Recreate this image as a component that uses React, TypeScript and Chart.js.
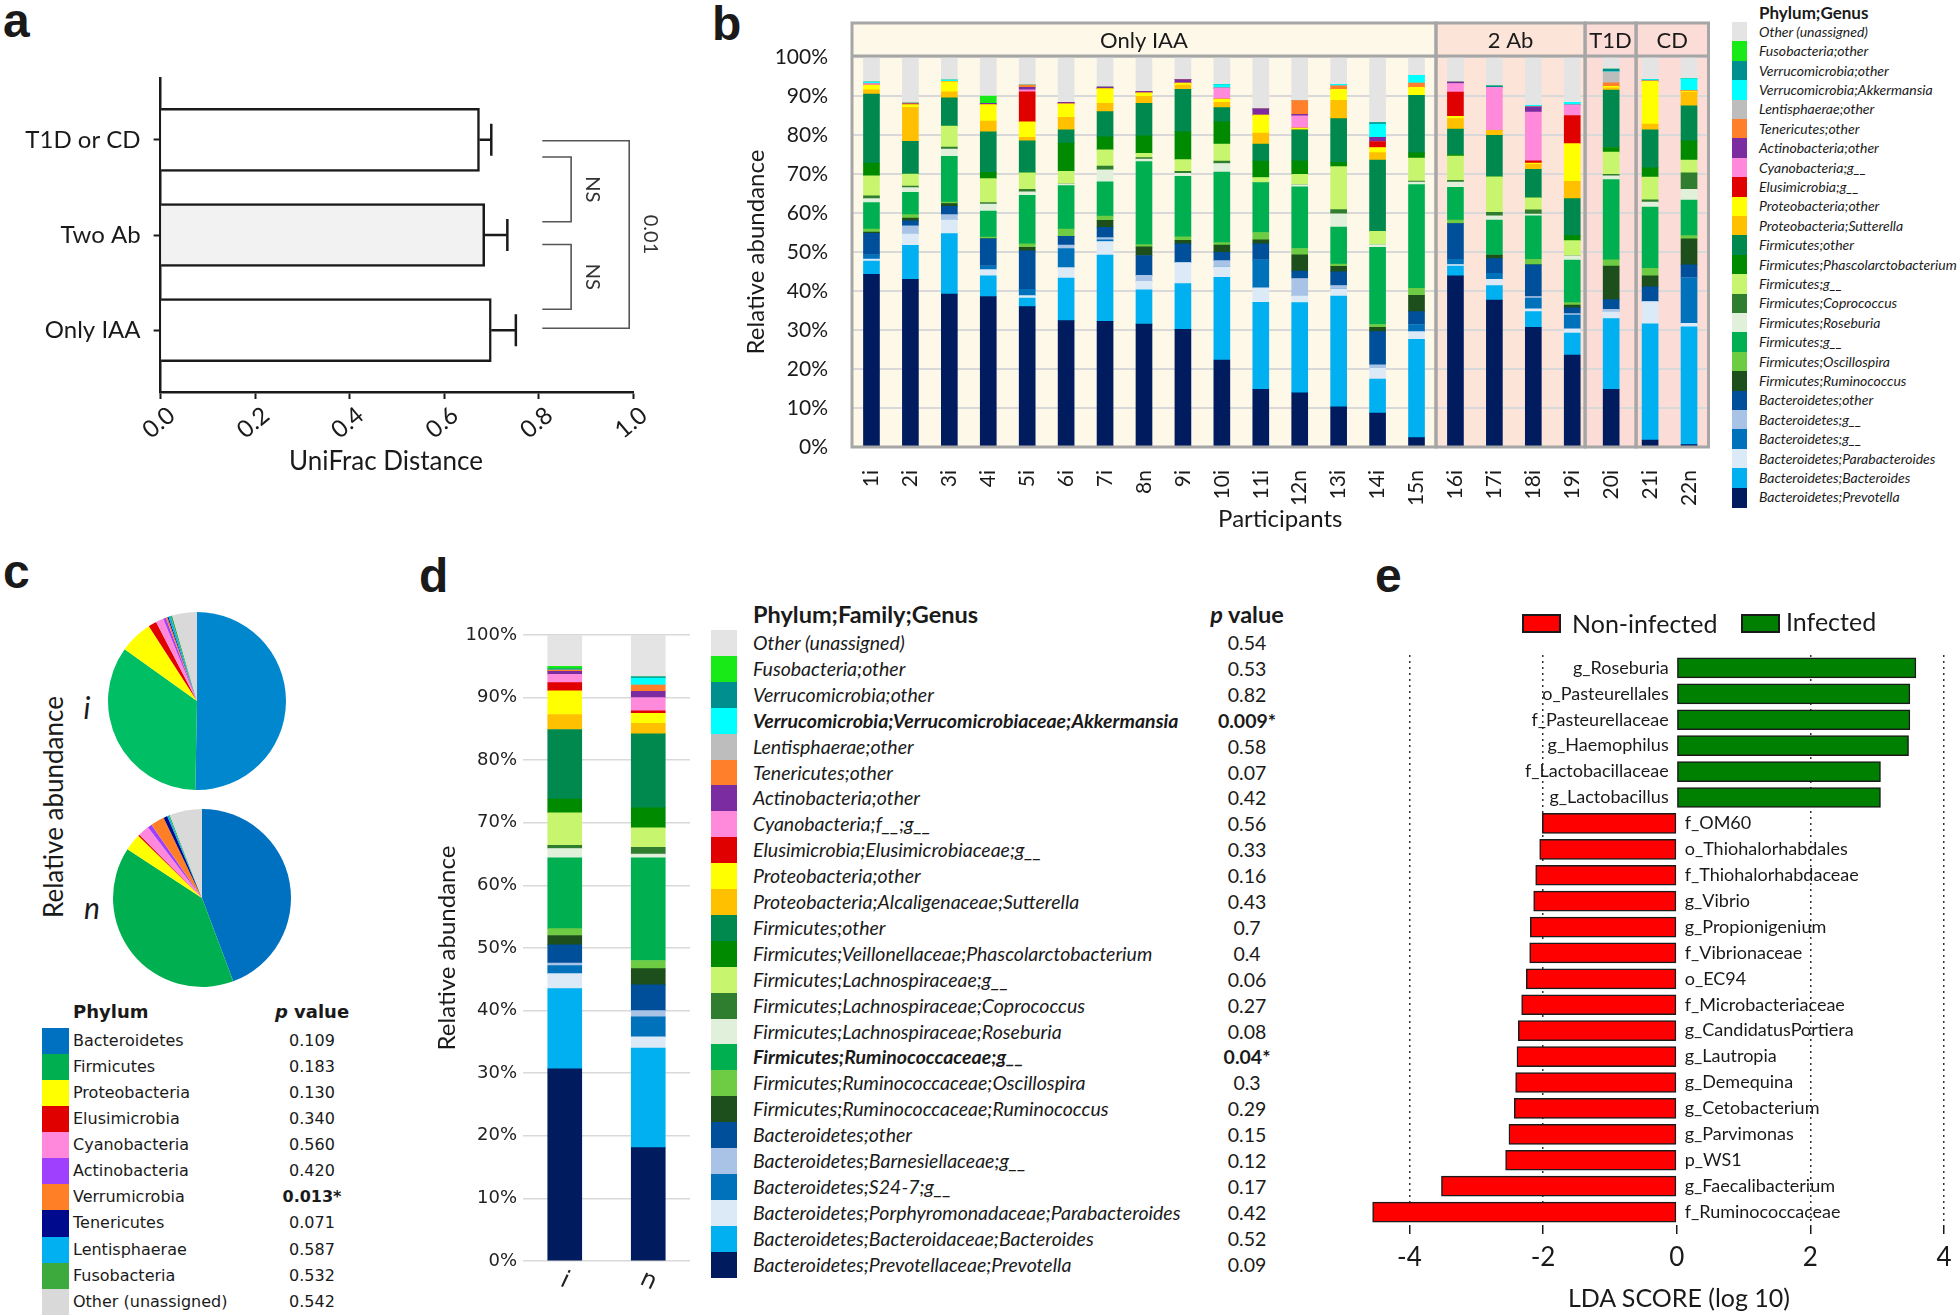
import React, { useEffect, useRef } from 'react';
import { Chart, registerables } from 'chart.js';

Chart.register(...registerables);

const FONT = 'Lato, "Open Sans", "DejaVu Sans", sans-serif';
const FONT_V = '"DejaVu Sans", Verdana, sans-serif';
const FONT_H = '"Liberation Sans", Arial, sans-serif';
const INK = '#1A1A1A';

// ================= Panel a =================
const A_GROUPS = ['Only IAA', 'Two Ab', 'T1D or CD'];
const A_MEANS = [0.7, 0.686, 0.675];
const A_SEM = [0.052, 0.048, 0.025];
const A_X_TICKS = [0, 0.2, 0.4, 0.6, 0.8, 1.0];
const A_BRACKET_LABELS = ['NS', 'NS', '0.01'];
const A_BRACKET_Y = [[1.82, 1.14], [0.9, 0.22], [1.99, 0.02]];
const A_BRACKET_X = [[0.808, 0.869], [0.808, 0.869], [0.808, 0.992]];

// ================= Panel b =================
const B_PARTICIPANTS = ['1i', '2i', '3i', '4i', '5i', '6i', '7i', '8n', '9i', '10i', '11i', '12n', '13i', '14i', '15n', '16i', '17i', '18i', '19i', '20i', '21i', '22n'];
const B_GROUP_NAMES = ['Only IAA', '2 Ab', 'T1D', 'CD'];
const B_GROUP_EDGES = [-0.5, 14.5, 18.33, 19.64, 21.5];
const B_TAXA = [
  'Other (unassigned)', 'Fusobacteria;other', 'Verrucomicrobia;other', 'Verrucomicrobia;Akkermansia',
  'Lentisphaerae;other', 'Tenericutes;other', 'Actinobacteria;other', 'Cyanobacteria;g__', 'Elusimicrobia;g__',
  'Proteobacteria;other', 'Proteobacteria;Sutterella', 'Firmicutes;other', 'Firmicutes;Phascolarctobacterium',
  'Firmicutes;g__', 'Firmicutes;Coprococcus', 'Firmicutes;Roseburia', 'Firmicutes;g__', 'Firmicutes;Oscillospira',
  'Firmicutes;Ruminococcus', 'Bacteroidetes;other', 'Bacteroidetes;g__', 'Bacteroidetes;g__',
  'Bacteroidetes;Parabacteroides', 'Bacteroidetes;Bacteroides', 'Bacteroidetes;Prevotella',
];
const B_OTHER = [6.4, 11.8, 5.9, 10.0, 7.2, 11.6, 7.7, 8.8, 5.8, 7.1, 13.3, 11.2, 7.0, 16.8, 4.7, 6.4, 7.4, 12.4, 11.6, 3.1, 5.8, 5.6];
const B_FUSO = [0, 0, 0, 1.9, 0, 0, 0, 0, 0, 0, 0, 0, 0, 0, 0, 0, 0, 0, 0, 0, 0, 0];
const B_VERR_OTHER = [0, 0, 0, 0, 0, 0, 0, 0, 0, 0, 0, 0, 0, 0.4, 0, 0, 0.4, 0, 0, 0.7, 0, 0];
const B_AKKERMANSIA = [0.4, 0, 0.4, 0, 0, 0, 0, 0, 0, 0.9, 0, 0, 0.4, 3.4, 2.0, 0, 0, 0.4, 0.7, 0, 0.4, 3.1];
const B_LENTIS = [0, 0, 0, 0, 0, 0, 0, 0, 0, 0, 0, 0, 0, 0, 0, 0, 0, 0, 0, 2.8, 0, 0];
const B_TENERIC = [0, 0.2, 0, 0, 0.6, 0, 0, 0, 0, 0, 0, 3.5, 0.9, 0, 1.1, 0, 0, 0, 0, 0.9, 0, 0];
const B_ACTINO = [0, 0.2, 0, 0.3, 0.6, 0.4, 0.4, 0.4, 0.9, 0, 1.6, 0.4, 0, 1.1, 0, 0.4, 0, 1.3, 0, 0, 0, 0];
const B_CYANO = [0.4, 0, 0, 0, 0.5, 0, 0, 0, 0, 2.8, 0, 3.1, 0, 0, 0, 2.2, 11.0, 12.5, 2.7, 0, 0, 0];
const B_ELUSIM = [0, 0, 0, 0, 7.7, 0, 0, 0, 0, 0, 0, 0, 0, 1.5, 0, 6.2, 0, 0.6, 7.2, 0, 0, 0];
const B_PROTEO_OTHER = [1.2, 0.7, 2.6, 4.2, 4.0, 3.5, 3.8, 0.9, 0.5, 0.8, 4.6, 0.5, 2.8, 1.3, 2.0, 0.6, 0, 0.3, 9.7, 0.4, 11.0, 0.3];
const B_SUTTERELLA = [1.1, 8.7, 1.6, 2.8, 0.9, 3.2, 2.1, 1.8, 1.1, 1.4, 2.8, 0, 4.7, 1.9, 0, 2.7, 1.3, 1.3, 4.4, 0.6, 1.5, 3.5];
const B_FIRM_OTHER = [17.7, 8.4, 7.2, 10.4, 8.2, 3.4, 6.5, 8.3, 10.9, 3.6, 4.4, 7.9, 11.2, 18.3, 14.8, 6.5, 10.6, 7.3, 9.5, 14.7, 9.7, 9.0];
const B_PHASCOLARCTO = [3.3, 0, 0, 1.6, 0, 7.2, 3.3, 4.5, 7.1, 5.7, 4.2, 3.5, 1.1, 0, 1.3, 0.4, 0, 0, 1.3, 1.2, 2.4, 4.9];
const B_FIRM_G1 = [5.1, 3.1, 5.4, 6.1, 4.2, 3.2, 4.2, 1.1, 3.0, 4.4, 1.3, 2.7, 11.0, 3.4, 5.9, 6.2, 9.1, 3.1, 3.9, 5.7, 5.8, 3.3];
const B_COPROCOCCUS = [0.7, 0.4, 0.5, 0.4, 0.7, 0, 0.9, 0.4, 0.5, 0.6, 0, 0, 1.1, 0, 0.3, 0.5, 0.9, 1.1, 0, 0.4, 0.6, 4.2];
const B_ROSEBURIA = [1.0, 1.2, 1.9, 1.8, 0.9, 0.5, 3.1, 0.6, 0.8, 2.2, 0, 0.5, 3.4, 0.7, 0.6, 1.3, 1.1, 0.4, 1.1, 0.9, 1.3, 2.8];
const B_FIRM_G2 = [6.8, 5.7, 11.7, 6.7, 12.4, 11.1, 8.8, 21.3, 15.5, 18.1, 12.8, 15.8, 9.5, 19.8, 26.6, 8.4, 9.0, 11.2, 10.9, 20.6, 15.7, 9.1];
const B_OSCILLOSPIRA = [0.8, 0.9, 0.4, 0.4, 0.9, 1.9, 1.1, 0.6, 0.9, 0.6, 1.9, 1.6, 0.6, 0.7, 1.8, 0.9, 0, 1.4, 0.6, 1.6, 1.9, 0.8];
const B_RUMINOCOCCUS = [0.3, 0.7, 0.7, 0, 0.9, 0, 1.8, 2.2, 0.9, 1.9, 1.0, 4.2, 1.4, 1.1, 4.2, 0, 0.9, 0, 0.7, 8.6, 2.8, 6.7];
const B_BACT_OTHER = [5.6, 1.3, 2.1, 7.0, 9.9, 2.2, 2.6, 5.1, 4.8, 2.1, 4.2, 1.9, 3.5, 8.5, 3.3, 9.2, 3.8, 8.1, 1.5, 2.5, 3.8, 3.3];
const B_BACT_G1 = [0, 2.0, 1.3, 0, 0, 0.9, 0.6, 1.5, 0, 1.6, 0, 4.4, 0.9, 0.9, 0, 0, 0, 0.4, 0.4, 0.6, 0, 0];
const B_BACT_G2 = [1.0, 0, 0, 0.9, 1.6, 4.9, 0.4, 0, 0, 0, 7.1, 0, 0, 0, 1.8, 1.3, 1.5, 2.8, 3.5, 0, 0, 11.7];
const B_PARABACT = [0.5, 3.0, 3.6, 1.6, 0.6, 2.7, 3.5, 2.2, 5.4, 2.7, 3.7, 1.8, 1.8, 2.8, 2.0, 0.4, 1.6, 0.7, 1.1, 1.8, 5.7, 0.9];
const B_BACTEROIDES = [3.4, 8.7, 15.5, 5.3, 2.2, 10.9, 17.0, 8.8, 11.7, 21.2, 22.3, 23.1, 28.4, 8.7, 25.2, 2.5, 3.7, 4.0, 5.6, 18.1, 29.8, 30.2];
const B_PREVOTELLA = [44.3, 43.0, 39.2, 38.6, 36.0, 32.4, 32.2, 31.5, 30.2, 22.3, 14.8, 13.9, 10.3, 8.7, 2.4, 43.9, 37.7, 30.7, 23.6, 14.8, 1.8, 0.6];
const B_SERIES = [
  B_OTHER, B_FUSO, B_VERR_OTHER, B_AKKERMANSIA, B_LENTIS, B_TENERIC, B_ACTINO, B_CYANO, B_ELUSIM,
  B_PROTEO_OTHER, B_SUTTERELLA, B_FIRM_OTHER, B_PHASCOLARCTO, B_FIRM_G1, B_COPROCOCCUS, B_ROSEBURIA,
  B_FIRM_G2, B_OSCILLOSPIRA, B_RUMINOCOCCUS, B_BACT_OTHER, B_BACT_G1, B_BACT_G2, B_PARABACT,
  B_BACTEROIDES, B_PREVOTELLA,
];

// shared genus colours (legend order, top -> bottom)
const TAXA_COLORS = [
  '#E4E4E4', '#17EA17', '#008F8F', '#00FFFF', '#BDBDBD', '#FF7F2A', '#7A2CA0', '#FF8ADB', '#E00000',
  '#FFFF00', '#FFC000', '#00894F', '#008A00', '#C7F56E', '#2F7D2F', '#E1F0DA', '#00B050', '#6DCC44',
  '#1D4F1D', '#004F9A', '#A8C3E6', '#0071BB', '#DCEAF7', '#00B0F0', '#001B5E',
];
const B_GROUP_FILLS = ['#FEF8E9', '#FCE4D8', '#FCDCD6', '#FCDCD6'];

// ================= Panel c =================
const C_PHYLA = ['Bacteroidetes', 'Firmicutes', 'Proteobacteria', 'Elusimicrobia', 'Cyanobacteria', 'Actinobacteria', 'Verrumicrobia', 'Tenericutes', 'Lentisphaerae', 'Fusobacteria', 'Other (unassigned)'];
const C_PVALUES = ['0.109', '0.183', '0.130', '0.340', '0.560', '0.420', '0.013*', '0.071', '0.587', '0.532', '0.542'];
const C_BOLD = [6];
const C_I = [50.3, 34.6, 6.0, 1.5, 1.4, 0.5, 0.3, 0.2, 0.4, 0.3, 4.5];
const C_N = [44.3, 39.9, 3.1, 0.3, 2.0, 0.8, 2.5, 0.7, 0.3, 0.2, 5.9];
const C_COLORS = ['#0070C0', '#00B050', '#FFFF00', '#E00000', '#FF88DD', '#A040FF', '#FF7F27', '#000A8C', '#00B0F0', '#3CAA3C', '#D9D9D9'];
const C_COLORS_I = ['#0087CE', '#00BE64', '#FFFF00', '#E00000', '#FF88DD', '#A040FF', '#FF7F27', '#000A8C', '#00B0F0', '#3CAA3C', '#D9D9D9'];

// ================= Panel d =================
const D_GROUPS = ['i', 'n'];
const D_TAXA = [
  'Other (unassigned)', 'Fusobacteria;other', 'Verrucomicrobia;other', 'Verrucomicrobia;Verrucomicrobiaceae;Akkermansia',
  'Lentisphaerae;other', 'Tenericutes;other', 'Actinobacteria;other', 'Cyanobacteria;f__;g__',
  'Elusimicrobia;Elusimicrobiaceae;g__', 'Proteobacteria;other', 'Proteobacteria;Alcaligenaceae;Sutterella',
  'Firmicutes;other', 'Firmicutes;Veillonellaceae;Phascolarctobacterium', 'Firmicutes;Lachnospiraceae;g__',
  'Firmicutes;Lachnospiraceae;Coprococcus', 'Firmicutes;Lachnospiraceae;Roseburia', 'Firmicutes;Ruminococcaceae;g__',
  'Firmicutes;Ruminococcaceae;Oscillospira', 'Firmicutes;Ruminococcaceae;Ruminococcus', 'Bacteroidetes;other',
  'Bacteroidetes;Barnesiellaceae;g__', 'Bacteroidetes;S24-7;g__', 'Bacteroidetes;Porphyromonadaceae;Parabacteroides',
  'Bacteroidetes;Bacteroidaceae;Bacteroides', 'Bacteroidetes;Prevotellaceae;Prevotella',
];
const D_PVALUES = ['0.54', '0.53', '0.82', '0.009*', '0.58', '0.07', '0.42', '0.56', '0.33', '0.16', '0.43', '0.7', '0.4', '0.06', '0.27', '0.08', '0.04*', '0.3', '0.29', '0.15', '0.12', '0.17', '0.42', '0.52', '0.09'];
const D_BOLD = [3, 16];
const D_I = [5.0, 0.4, 0.2, 0, 0, 0.2, 0.5, 1.3, 1.3, 3.8, 2.4, 11.1, 2.2, 5.2, 0.5, 1.5, 11.3, 1.1, 1.5, 2.9, 0.4, 1.3, 2.4, 12.8, 30.7];
const D_N = [6.7, 0, 0.2, 1.1, 0, 1.0, 1.0, 2.1, 0.4, 1.6, 1.7, 11.8, 3.2, 3.1, 1.1, 0.6, 16.4, 1.3, 2.6, 4.1, 1.0, 3.2, 1.8, 15.9, 18.1];
const PCT_TICKS = [0, 10, 20, 30, 40, 50, 60, 70, 80, 90, 100];

// ================= Panel e =================
const E_TAXA = ['g_Roseburia', 'o_Pasteurellales', 'f_Pasteurellaceae', 'g_Haemophilus', 'f_Lactobacillaceae', 'g_Lactobacillus', 'f_OM60', 'o_Thiohalorhabdales', 'f_Thiohalorhabdaceae', 'g_Vibrio', 'g_Propionigenium', 'f_Vibrionaceae', 'o_EC94', 'f_Microbacteriaceae', 'g_CandidatusPortiera', 'g_Lautropia', 'g_Demequina', 'g_Cetobacterium', 'g_Parvimonas', 'p_WS1', 'g_Faecalibacterium', 'f_Ruminococcaceae'];
const E_LDA = [3.58, 3.49, 3.49, 3.47, 3.05, 3.05, -2.01, -2.05, -2.11, -2.14, -2.19, -2.2, -2.25, -2.32, -2.37, -2.39, -2.41, -2.43, -2.51, -2.56, -3.52, -4.55];
const E_X_TICKS = [-4, -2, 0, 2, 4];
const E_LEGEND = ['Non-infected', 'Infected'];
const E_COLORS = ['#FF0000', '#008000'];

// ---------------- plugins ----------------
const aErrorPlugin = {
  id: 'aErr',
  afterDatasetsDraw(chart: any) {
    const { ctx, scales: { x, y } } = chart;
    ctx.save();
    ctx.strokeStyle = INK;
    ctx.lineWidth = 2.5;
    A_MEANS.forEach((m, i) => {
      const x0 = x.getPixelForValue(m);
      const x1 = x.getPixelForValue(m + A_SEM[i]);
      const yy = y.getPixelForValue(i);
      ctx.beginPath();
      ctx.moveTo(x0, yy); ctx.lineTo(x1, yy);
      ctx.moveTo(x1, yy - 16); ctx.lineTo(x1, yy + 16);
      ctx.stroke();
    });
    ctx.restore();
  },
};

const aBracketPlugin = {
  id: 'aBr',
  afterDatasetsDraw(chart: any) {
    const { ctx, scales: { x, y } } = chart;
    ctx.save();
    ctx.strokeStyle = '#555';
    ctx.lineWidth = 1.6;
    A_BRACKET_LABELS.forEach((label, i) => {
      const x1 = x.getPixelForValue(A_BRACKET_X[i][0]);
      const x2 = x.getPixelForValue(A_BRACKET_X[i][1]);
      const y1 = y.getPixelForValue(A_BRACKET_Y[i][0]);
      const y2 = y.getPixelForValue(A_BRACKET_Y[i][1]);
      ctx.beginPath();
      ctx.moveTo(x1, y1); ctx.lineTo(x2, y1); ctx.lineTo(x2, y2); ctx.lineTo(x1, y2);
      ctx.stroke();
      ctx.save();
      ctx.translate(x2 + 21, (y1 + y2) / 2);
      ctx.rotate(Math.PI / 2);
      ctx.font = `20px ${FONT}`;
      ctx.fillStyle = '#333';
      ctx.textAlign = 'center';
      ctx.textBaseline = 'middle';
      ctx.fillText(label, 0, 0);
      ctx.restore();
    });
    ctx.restore();
  },
};

const B_HEADER_H = 34;
const bFramePlugin = {
  id: 'bFrame',
  beforeDraw(chart: any) {
    const { ctx, chartArea: ca, scales: { x } } = chart;
    const top = ca.top - B_HEADER_H;
    ctx.save();
    B_GROUP_NAMES.forEach((_, i) => {
      const x0 = x.getPixelForValue(B_GROUP_EDGES[i]);
      const x1 = x.getPixelForValue(B_GROUP_EDGES[i + 1]);
      ctx.fillStyle = B_GROUP_FILLS[i];
      ctx.fillRect(x0, top, x1 - x0, ca.bottom - top);
    });
    ctx.restore();
  },
  afterDatasetsDraw(chart: any) {
    const { ctx, chartArea: ca, scales: { x } } = chart;
    const top = ca.top - B_HEADER_H;
    ctx.save();
    ctx.strokeStyle = '#A6A6A6';
    ctx.lineWidth = 3;
    B_GROUP_NAMES.forEach((name, i) => {
      const x0 = x.getPixelForValue(B_GROUP_EDGES[i]);
      const x1 = x.getPixelForValue(B_GROUP_EDGES[i + 1]);
      ctx.strokeRect(x0, top, x1 - x0, ca.bottom - top);
      ctx.beginPath();
      ctx.moveTo(x0, ca.top - 1); ctx.lineTo(x1, ca.top - 1);
      ctx.stroke();
      ctx.fillStyle = INK;
      ctx.font = `22px ${FONT}`;
      ctx.textAlign = 'center';
      ctx.textBaseline = 'middle';
      ctx.fillText(name, (x0 + x1) / 2, top + B_HEADER_H / 2 + 1);
    });
    ctx.restore();
  },
};

const dLabelPlugin = {
  id: 'dLab',
  afterDraw(chart: any) {
    const { ctx, chartArea: ca, scales: { x } } = chart;
    ctx.save();
    ctx.fillStyle = '#222';
    ctx.font = `24px ${FONT_V}`;
    ctx.textAlign = 'center';
    ctx.textBaseline = 'middle';
    D_GROUPS.forEach((g, i) => {
      ctx.save();
      ctx.translate(x.getPixelForValue(i), ca.bottom + 20);
      ctx.rotate((25 * Math.PI) / 180);
      ctx.fillText(g, 0, 0);
      ctx.restore();
    });
    ctx.restore();
  },
};

const eLabelPlugin = {
  id: 'eLab',
  afterDatasetsDraw(chart: any) {
    const { ctx, scales: { x, y } } = chart;
    const x0 = x.getPixelForValue(0);
    ctx.save();
    ctx.fillStyle = INK;
    ctx.font = `18px ${FONT}`;
    ctx.textBaseline = 'middle';
    E_TAXA.forEach((t, i) => {
      const yy = y.getPixelForValue(i);
      if (E_LDA[i] > 0) {
        ctx.textAlign = 'right';
        ctx.fillText(t, x0 - 8, yy);
      } else {
        ctx.textAlign = 'left';
        ctx.fillText(t, x0 + 8, yy);
      }
    });
    ctx.restore();
  },
};

const noPlug = { legend: { display: false }, tooltip: { enabled: false } };

// ---------------- configs ----------------
const makeA = () => ({
  type: 'bar',
  data: {
    datasets: [{
      data: A_MEANS.map((m, i) => ({ x: m, y: i })),
      backgroundColor: ['#FFFFFF', '#F2F2F2', '#FFFFFF'],
      borderColor: INK,
      borderWidth: 2.5,
      barThickness: 63,
    }],
  },
  options: {
    indexAxis: 'y',
    responsive: false,
    animation: false,
    layout: { padding: { left: 0, right: 67, top: 38, bottom: 0 } },
    plugins: noPlug,
    scales: {
      x: {
        type: 'linear', min: 0, max: 1,
        afterFit: (s: any) => { s.height = 108; },
        afterBuildTicks: (s: any) => { s.ticks = A_X_TICKS.map((v) => ({ value: v })); },
        ticks: { callback: (v: any) => Number(v).toFixed(1), minRotation: 40, maxRotation: 40, labelOffset: 11, font: { family: FONT, size: 24 }, color: INK, padding: 2 },
        grid: { drawOnChartArea: false, tickLength: 7, tickColor: INK, tickWidth: 2 },
        border: { color: INK, width: 2.5 },
      },
      y: {
        type: 'linear', min: -0.65, max: 2.65, offset: false, bounds: 'data',
        afterFit: (s: any) => { s.width = 160.6; },
        afterBuildTicks: (s: any) => { s.ticks = A_GROUPS.map((_, i) => ({ value: i })); },
        ticks: { callback: (v: any) => A_GROUPS[v], font: { family: FONT, size: 24 }, color: INK, padding: 13 },
        grid: { drawOnChartArea: false, offset: false, tickLength: 7, tickColor: INK, tickWidth: 2 },
        border: { color: INK, width: 2.5 },
      },
    },
  },
  plugins: [aErrorPlugin, aBracketPlugin],
});

const makeB = () => ({
  type: 'bar',
  data: {
    labels: B_PARTICIPANTS,
    datasets: B_SERIES.map((data, i) => ({
      label: B_TAXA[i], data, backgroundColor: TAXA_COLORS[i], borderWidth: 0, barThickness: 16,
    })).reverse(),
  },
  options: {
    responsive: false,
    animation: false,
    layout: { padding: { left: 0, right: 21.5, top: 57, bottom: 0 } },
    plugins: noPlug,
    scales: {
      x: {
        stacked: true,
        afterFit: (s: any) => { s.height = 93; },
        grid: { display: false },
        border: { display: false },
        ticks: { autoSkip: false, minRotation: 90, maxRotation: 90, font: { family: FONT, size: 21 }, color: INK, padding: 15 },
        title: { display: true, text: 'Participants', font: { family: FONT, size: 24 }, color: INK, padding: { top: 0, bottom: 6.6 } },
      },
      y: {
        stacked: true, min: 0, max: 100,
        afterFit: (s: any) => { s.width = 152; },
        afterBuildTicks: (s: any) => { s.ticks = PCT_TICKS.map((v) => ({ value: v })); },
        ticks: { callback: (v: any) => `${v}%`, font: { family: FONT, size: 21 }, color: INK, padding: 24 },
        grid: { color: '#D9D9D9', lineWidth: 2, drawTicks: false },
        border: { display: false },
        title: { display: true, text: 'Relative abundance', font: { family: FONT, size: 24 }, color: INK, padding: { top: 41.6, bottom: 0 } },
      },
    },
  },
  plugins: [bFramePlugin],
});

const makePie = (values: number[], colors: string[]) => () => ({
  type: 'pie',
  data: { labels: C_PHYLA, datasets: [{ data: values, backgroundColor: colors, borderWidth: 0 }] },
  options: { responsive: false, animation: false, layout: { padding: 6 }, plugins: noPlug },
});

const makeD = () => ({
  type: 'bar',
  data: {
    labels: D_GROUPS,
    datasets: D_TAXA.map((name, k) => ({
      label: name, data: [D_I[k], D_N[k]], backgroundColor: TAXA_COLORS[k], borderWidth: 0, barThickness: 34,
    })).reverse(),
  },
  options: {
    responsive: false,
    animation: false,
    layout: { padding: { left: 0, right: 20, top: 35, bottom: 0 } },
    plugins: noPlug,
    scales: {
      x: {
        stacked: true,
        afterFit: (s: any) => { s.height = 54; },
        grid: { display: false },
        border: { display: false },
        ticks: { display: false },
      },
      y: {
        stacked: true, min: 0, max: 100,
        afterFit: (s: any) => { s.width = 103; },
        afterBuildTicks: (s: any) => { s.ticks = PCT_TICKS.map((v) => ({ value: v })); },
        ticks: { callback: (v: any) => `${v}%`, font: { family: FONT_V, size: 18 }, color: '#222', padding: 6 },
        grid: { color: '#D9D9D9', lineWidth: 1.5, drawTicks: false },
        border: { display: false },
        title: { display: true, text: 'Relative abundance', font: { family: FONT, size: 24 }, color: INK, padding: { top: 12.6, bottom: 0 } },
      },
    },
  },
  plugins: [dLabelPlugin],
});

const makeE = () => ({
  type: 'bar',
  data: {
    labels: E_TAXA,
    datasets: [{
      data: E_LDA,
      backgroundColor: E_LDA.map((v) => (v > 0 ? E_COLORS[1] : E_COLORS[0])),
      borderColor: INK,
      borderWidth: 1.5,
      borderSkipped: false,
      barThickness: 20,
    }],
  },
  options: {
    indexAxis: 'y',
    responsive: false,
    animation: false,
    layout: { padding: { left: 12.6, right: 5.4, top: 55, bottom: 0 } },
    plugins: noPlug,
    scales: {
      x: {
        type: 'linear', min: -4.7, max: 4.15,
        afterFit: (s: any) => { s.height = 90; },
        afterBuildTicks: (s: any) => { s.ticks = E_X_TICKS.map((v) => ({ value: v })); },
        ticks: { font: { family: FONT, size: 26 }, color: INK, padding: 8.4 },
        grid: {
          color: (c: any) => (c.tick && c.tick.value === 0 ? 'rgba(0,0,0,0)' : '#333'),
          lineWidth: 1.5, tickLength: 9, tickColor: INK, tickWidth: 1.5, tickBorderDash: [],
        },
        border: { display: false, dash: [2, 4] },
      },
      y: { display: false },
    },
  },
  plugins: [eLabelPlugin],
});

// ---------------- components ----------------
function ChartCanvas({ x, y, w, h, make }: any) {
  const ref = useRef<HTMLCanvasElement>(null);
  useEffect(() => {
    if (!ref.current) return undefined;
    const chart = new Chart(ref.current, make() as any);
    return () => chart.destroy();
  }, []);
  return <canvas ref={ref} width={w} height={h} style={{ position: 'absolute', left: x, top: y, width: w, height: h, display: 'block' }} />;
}

function T({ x, y, align = 'left', size, family = FONT, weight = 400, italic = false, color = INK, rotate = 0, children }: any) {
  const tx = align === 'left' ? '0' : align === 'center' ? '-50%' : '-100%';
  return (
    <div
      style={{
        position: 'absolute', left: x, top: y, transform: `translate(${tx}, -50%) rotate(${rotate}deg)`,
        fontFamily: family, fontSize: size, fontWeight: weight, fontStyle: italic ? 'italic' : 'normal',
        color, whiteSpace: 'nowrap', lineHeight: 1,
      }}
    >
      {children}
    </div>
  );
}

function Box({ x, y, w, h, color, border }: any) {
  return <div style={{ position: 'absolute', left: x, top: y, width: w, height: h, background: color, boxSizing: 'border-box', border: border || 'none' }} />;
}

export default function App() {
  const bRow = 19.4;
  const cRow = 26.1;
  const dRow = 25.9;
  return (
    <div style={{ position: 'absolute', left: 0, top: 0, width: 1960, height: 1315, background: '#fff', overflow: 'hidden' }}>
      {/* panel letters */}
      <T x={3} y={21} size={48} family={FONT_H} weight={700}>a</T>
      <T x={712} y={24} size={48} family={FONT_H} weight={700}>b</T>
      <T x={3} y={572} size={48} family={FONT_H} weight={700}>c</T>
      <T x={419} y={576} size={48} family={FONT_H} weight={700}>d</T>
      <T x={1375} y={576} size={48} family={FONT_H} weight={700}>e</T>

      {/* panel a */}
      <ChartCanvas x={0} y={40} w={700} h={460} make={makeA} />
      <T x={386} y={460} size={26} align="center">UniFrac Distance</T>

      {/* panel b */}
      <ChartCanvas x={700} y={0} w={1030} h={540} make={makeB} />
      <T x={1759} y={12} size={17} weight={700}>Phylum;Genus</T>
      {B_TAXA.map((name, i) => (
        <React.Fragment key={`bl${i}`}>
          <Box x={1732} y={22 + bRow * i} w={15} h={bRow + 0.6} color={TAXA_COLORS[i]} />
          <T x={1759} y={22 + bRow * i + bRow / 2} size={14} italic>{name}</T>
        </React.Fragment>
      ))}

      {/* panel c */}
      <ChartCanvas x={102} y={606} w={190} h={190} make={makePie(C_I, C_COLORS_I)} />
      <ChartCanvas x={106.5} y={803} w={190} h={190} make={makePie(C_N, C_COLORS)} />
      <T x={53} y={807} size={26} align="center" rotate={-90}>Relative abundance</T>
      <T x={87} y={707} size={30} align="center" italic>i</T>
      <T x={92} y={907} size={30} align="center" italic>n</T>
      <T x={73} y={1012} size={18} family={FONT_V} weight={700}>Phylum</T>
      <T x={312} y={1012} size={18} family={FONT_V} weight={700} align="center"><i>p</i> value</T>
      {C_PHYLA.map((name, i) => (
        <React.Fragment key={`cl${i}`}>
          <Box x={42} y={1027.7 + cRow * i} w={27} h={cRow + 0.5} color={C_COLORS[i]} />
          <T x={73} y={1040.7 + cRow * i} size={16} family={FONT_V}>{name}</T>
          <T x={312} y={1040.7 + cRow * i} size={16} family={FONT_V} align="center" weight={C_BOLD.includes(i) ? 700 : 400}>{C_PVALUES[i]}</T>
        </React.Fragment>
      ))}

      {/* panel d */}
      <ChartCanvas x={420} y={600} w={290} h={715} make={makeD} />
      <T x={753} y={615} size={23.5} weight={700}>Phylum;Family;Genus</T>
      <T x={1247} y={615} size={23.5} weight={700} align="center"><i>p</i> value</T>
      {D_TAXA.map((name, i) => (
        <React.Fragment key={`dl${i}`}>
          <Box x={711} y={630 + dRow * i} w={26} h={dRow + 0.5} color={TAXA_COLORS[i]} />
          <T x={753} y={643 + dRow * i} size={19.5} italic weight={D_BOLD.includes(i) ? 700 : 400}>{name}</T>
          <T x={1247} y={643 + dRow * i} size={19.5} align="center" weight={D_BOLD.includes(i) ? 700 : 400}>{D_PVALUES[i]}</T>
        </React.Fragment>
      ))}

      {/* panel e */}
      <ChartCanvas x={1350} y={600} w={610} h={715} make={makeE} />
      <Box x={1522} y={614} w={39} h={19} color={E_COLORS[0]} border="2px solid #1A1A1A" />
      <T x={1572} y={623} size={25}>{E_LEGEND[0]}</T>
      <Box x={1741} y={614} w={39} h={19} color={E_COLORS[1]} border="2px solid #1A1A1A" />
      <T x={1786} y={621} size={25}>{E_LEGEND[1]}</T>
      <T x={1679} y={1297} size={25} align="center">LDA SCORE (log 10)</T>
    </div>
  );
}
